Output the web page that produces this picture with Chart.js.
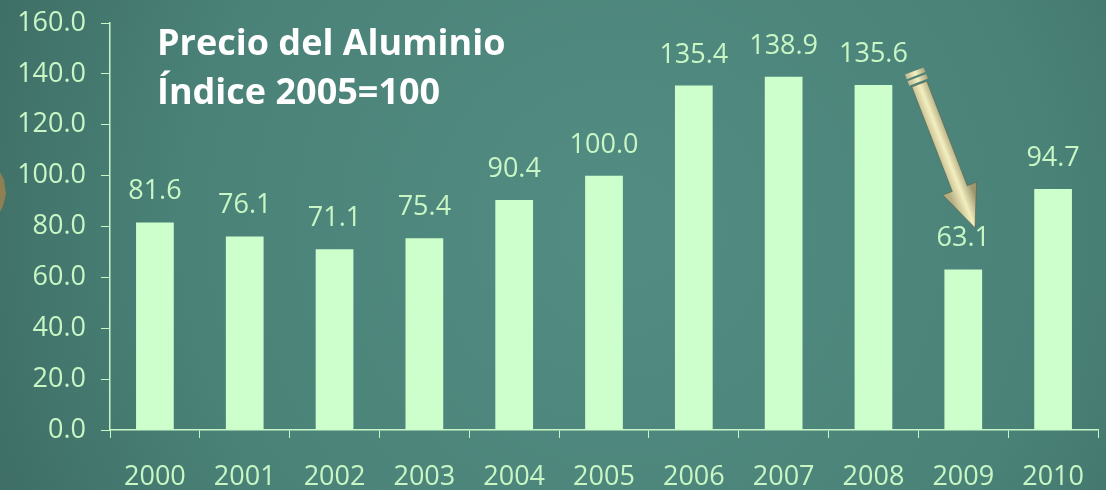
<!DOCTYPE html>
<html>
<head>
<meta charset="utf-8">
<script src="https://cdn.jsdelivr.net/npm/chart.js@4/dist/chart.umd.min.js"></script>
<style>
  html, body { margin: 0; padding: 0; background: #46796f; }
  #wrap { width: 1106px; height: 490px; position: relative; }
</style>
</head>
<body>
<div id="wrap"><canvas id="c" width="1106" height="490"></canvas></div>
<script>
const categories = ['2000','2001','2002','2003','2004','2005','2006','2007','2008','2009','2010'];
const values = [81.6, 76.1, 71.1, 75.4, 90.4, 100.0, 135.4, 138.9, 135.6, 63.1, 94.7];
const yTicks = [0, 20, 40, 60, 80, 100, 120, 140, 160];
const titleLines = ['Precio del Aluminio', 'Índice 2005=100'];

const TXT = '#c8f7c5';
const BAR = '#ccffcc';
const FONT = '"Open Sans", "Noto Sans", sans-serif';

const bgPlugin = {
  id: 'bg',
  beforeDraw(chart) {
    const { ctx, width, height } = chart;
    ctx.save();
    const g = ctx.createRadialGradient(620, 230, 40, 620, 230, 760);
    g.addColorStop(0, '#528b81');
    g.addColorStop(0.55, '#4a8278');
    g.addColorStop(1, '#3a675e');
    ctx.fillStyle = g;
    ctx.fillRect(0, 0, width, height);
    ctx.fillStyle = '#8f7f52';
    ctx.beginPath();
    ctx.moveTo(0, 172); ctx.lineTo(4, 180); ctx.lineTo(6, 194); ctx.lineTo(3, 206); ctx.lineTo(0, 212);
    ctx.closePath(); ctx.fill();
    ctx.restore();
  }
};

const labelPlugin = {
  id: 'labels',
  afterDatasetsDraw(chart) {
    const { ctx } = chart;
    const meta = chart.getDatasetMeta(0);
    ctx.save();
    ctx.font = '27px ' + FONT;
    ctx.fillStyle = TXT;
    ctx.textAlign = 'center';
    ctx.textBaseline = 'alphabetic';
    meta.data.forEach((bar, i) => {
      ctx.fillText(values[i].toFixed(1), bar.x, bar.y - 23);
    });
    ctx.restore();
  }
};

const titlePlugin = {
  id: 'titleTxt',
  afterDraw(chart) {
    const { ctx } = chart;
    ctx.save();
    ctx.font = 'bold 36px ' + FONT;
    ctx.fillStyle = '#ffffff';
    ctx.textAlign = 'left';
    ctx.textBaseline = 'alphabetic';
    ctx.fillText(titleLines[0], 157, 55);
    ctx.fillText(titleLines[1], 157, 104);
    ctx.restore();
  }
};

const arrowPlugin = {
  id: 'arrow',
  afterDatasetsDraw(chart) {
    const { ctx, scales: { x, y } } = chart;
    const cw = x.getPixelForValue(1) - x.getPixelForValue(0);
    const tx = (x.getPixelForValue(8) + x.getPixelForValue(9)) / 2 + 1;
    const ty = y.getPixelForValue(136);
    const px = x.getPixelForValue(9) + 0.13 * cw;
    const py = y.getPixelForValue(79.5);
    const dx = px - tx, dy = py - ty, L = Math.hypot(dx, dy);
    const ux = dx / L, uy = dy / L;
    const nx = uy, ny = -ux;
    const sw = 8, hw = 18, hl = 42;
    const bx = px - ux * hl, by = py - uy * hl;
    ctx.save();
    const g = ctx.createLinearGradient(tx + nx * 12, ty + ny * 12, tx - nx * 12, ty - ny * 12);
    g.addColorStop(0, '#9c9670');
    g.addColorStop(0.5, '#f4efbf');
    g.addColorStop(1, '#b5ae84');
    ctx.fillStyle = g;
    const chunk = (off, len) => {
      const cx = tx - ux * off, cy = ty - uy * off;
      ctx.beginPath();
      ctx.moveTo(cx - nx * 10, cy - ny * 10);
      ctx.lineTo(cx + nx * 10, cy + ny * 10);
      ctx.lineTo(cx + nx * 10 + ux * len, cy + ny * 10 + uy * len);
      ctx.lineTo(cx - nx * 10 + ux * len, cy - ny * 10 + uy * len);
      ctx.closePath();
      ctx.fill();
    };
    chunk(14, 5);
    chunk(7, 5);
    ctx.beginPath();
    ctx.moveTo(tx - nx * sw, ty - ny * sw);
    ctx.lineTo(tx + nx * sw, ty + ny * sw);
    ctx.lineTo(bx + nx * sw, by + ny * sw);
    ctx.lineTo(bx + nx * hw, by + ny * hw);
    ctx.lineTo(px, py);
    ctx.lineTo(bx - nx * hw, by - ny * hw);
    ctx.lineTo(bx - nx * sw, by - ny * sw);
    ctx.closePath();
    ctx.fill();
    ctx.strokeStyle = 'rgba(90,85,60,0.5)';
    ctx.lineWidth = 1;
    ctx.stroke();
    ctx.restore();
  }
};

new Chart(document.getElementById('c'), {
  type: 'bar',
  data: {
    labels: categories,
    datasets: [{
      data: values,
      backgroundColor: BAR,
      borderWidth: 0,
      categoryPercentage: 0.42,
      barPercentage: 1.0
    }]
  },
  options: {
    responsive: false,
    animation: false,
    layout: { padding: { left: 0, right: 8, top: 23, bottom: 0 } },
    plugins: { legend: { display: false }, tooltip: { enabled: false }, title: { display: false } },
    scales: {
      x: {
        grid: { display: true, drawOnChartArea: false, tickLength: 8, color: TXT, lineWidth: 1, offset: true },
        border: { display: true, color: TXT, width: 1.5 },
        ticks: { color: TXT, font: { family: FONT, size: 27 }, padding: 23, maxRotation: 0 },
        afterFit(s) { s.height = 60; s.paddingLeft = 0; s.paddingRight = 0; }
      },
      y: {
        min: 0, max: 160,
        afterBuildTicks(s) { s.ticks = yTicks.map(v => ({ value: v })); },
        grid: { display: true, drawOnChartArea: false, tickLength: 9, color: TXT, lineWidth: 1 },
        border: { display: true, color: TXT, width: 1.5 },
        ticks: { color: TXT, font: { family: FONT, size: 27 }, padding: 15, callback: v => Number(v).toFixed(1) },
        afterFit(s) { s.width = 110; s.paddingTop = 0; s.paddingBottom = 0; }
      }
    }
  },
  plugins: [bgPlugin, labelPlugin, arrowPlugin, titlePlugin]
});
</script>
</body>
</html>
